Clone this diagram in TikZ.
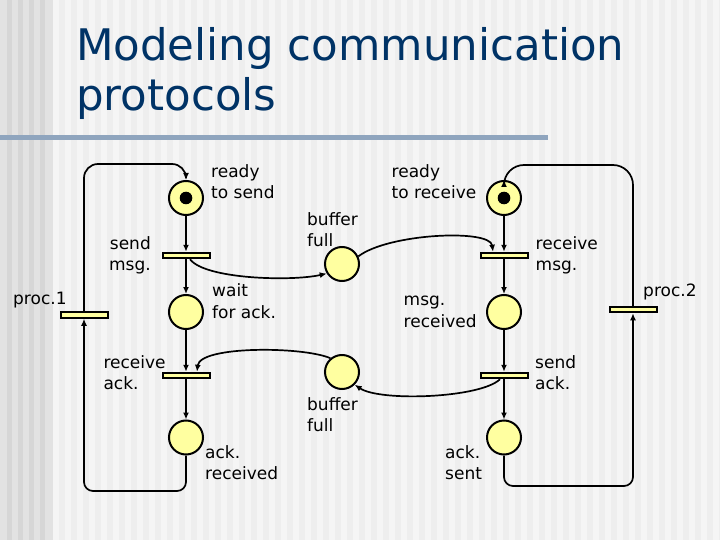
\documentclass[tikz,border=0pt]{standalone}
\usepackage{fontspec}
\setmainfont{DejaVu Sans}
\usetikzlibrary{arrows.meta,positioning}
\definecolor{titleblue}{RGB}{0,51,102}
\definecolor{netyellow}{RGB}{255,255,160}
\definecolor{bgbase}{RGB}{238,238,238}
\definecolor{bglight}{RGB}{245,245,245}
\definecolor{edgegray}{RGB}{226,226,226}
\definecolor{edgedark}{RGB}{214,214,214}
\definecolor{barblue}{RGB}{143,165,190}
\newcommand{\lblfont}{\fontsize{17}{21.5}\selectfont}
\newcommand{\ttlfont}{\fontsize{43.5}{50}\selectfont}

\begin{document}
\begin{tikzpicture}[x=1pt,y=-1pt,
  placecirc/.style={circle,draw,line width=2pt,fill=netyellow,minimum size=34pt,inner sep=0pt},
  transbar/.style={rectangle,draw,line width=2pt,fill=netyellow,minimum width=47pt,minimum height=5.5pt,inner sep=0pt},
  arcline/.style={line width=1.7pt,-{Latex[length=7pt,width=6pt]}},
  lbl/.style={font=\lblfont,inner sep=0pt,align=left,anchor=north west,execute at begin node=\rule{0pt}{13pt}}
]
  \useasboundingbox (0,0) rectangle (720,540);
  % slide background
  \fill[bgbase] (0,0) rectangle (720,540);
  \foreach \sx in {53,65,...,720}
    \fill[bglight] (\sx,0) rectangle ++(6,540);
  \fill[edgegray] (0,0) rectangle (53,540);
  \foreach \sx in {7,18,...,50}
    \fill[edgedark] (\sx,0) rectangle ++(5,540);
  \fill[barblue] (0,135) rectangle (548,140);
  \node[font=\ttlfont,text=titleblue,align=left,anchor=north west,inner sep=0pt,
    execute at begin node=\rule{0pt}{34pt}] (title) at (76,27.7) {Modeling communication\\protocols};

  % process 1
  \node[placecirc] (rts) at (186,198) {};
  \fill (rts.center) circle[radius=6.3pt];
  \node[transbar] (sm) at (186,255.5) {};
  \node[placecirc] (wfa) at (186,312) {};
  \node[transbar] (ra) at (186,375.5) {};
  \node[placecirc] (ackr) at (186,437.5) {};
  \node[transbar] (p1) at (84,315) {};
  % process 2
  \node[placecirc] (rtr) at (504,198) {};
  \fill (rtr.center) circle[radius=6.3pt];
  \node[transbar] (rm) at (504,255.5) {};
  \node[placecirc] (mr) at (504,312) {};
  \node[transbar] (sa) at (504,375.5) {};
  \node[placecirc] (acks) at (504,437.5) {};
  \node[transbar] (p2) at (633,309.5) {};
  % buffers
  \node[placecirc] (bf1) at (342,264) {};
  \node[placecirc] (bf2) at (342,372) {};

  \coordinate (topleft) at (0,164);
  \coordinate (lowleft) at (0,491);
  \coordinate (topright) at (0,165);
  \coordinate (lowright) at (0,486);

  % arcs
  \draw[arcline] (rts) -- (sm);
  \draw[arcline] (sm) -- (wfa);
  \draw[arcline] (wfa) -- (ra);
  \draw[arcline] (ra) -- (ackr);
  \draw[arcline] (rtr) -- (rm);
  \draw[arcline] (rm) -- (mr);
  \draw[arcline] (mr) -- (sa);
  \draw[arcline] (sa) -- (acks);
  \draw[arcline,rounded corners=9pt] (ackr.south) -- (ackr.south |- lowleft) -- (p1.south |- lowleft) -- (p1.south);
  \draw[arcline,rounded corners=14pt] (p1.north) -- (p1.north |- topleft) -- (rts.north |- topleft) -- (rts.north);
  \draw[arcline,rounded corners=9pt] (acks.south) -- (acks.south |- lowright) -- (p2.south |- lowright) -- (p2.south);
  \draw[arcline,rounded corners=20pt] (p2.north) -- (p2.north |- topright) -- (rtr.north |- topright) -- (rtr.north);
  \draw[arcline] ([xshift=4pt]sm.south) .. controls +(15,20) and +(-35,8) .. (bf1.212);
  \draw[arcline] (bf1.25) .. controls +(30,-23) and +(-3,-23) .. ([xshift=-11pt]rm.north);
  \draw[arcline] ([xshift=-4pt]sa.south) .. controls +(-20,19) and +(25,17) .. (bf2.315);
  \draw[arcline] (bf2.130) .. controls +(-28,-12) and +(3,-26) .. ([xshift=11pt]ra.north);

  % labels
  \node[lbl] (l-rts) at (211,164) {ready\\to send};
  \node[lbl,align=right,anchor=north east] (l-sm) at (151,236) {send\\msg.};
  \node[lbl] (l-p1) at (13,291) {proc.1};
  \node[lbl] (l-wfa) at (212,283.7) {wait\\for ack.};
  \node[lbl] (l-bf1) at (307,212) {buffer\\full};
  \node[lbl] (l-rtr) at (391.5,164) {ready\\to receive};
  \node[lbl] (l-rm) at (535.5,236) {receive\\msg.};
  \node[lbl] (l-mr) at (403.5,296) {msg.\\received};
  \node[lbl] (l-p2) at (643,283.7) {proc.2};
  \node[lbl] (l-ra) at (103.3,355) {receive\\ack.};
  \node[lbl] (l-bf2) at (307,397) {buffer\\full};
  \node[lbl] (l-ackr) at (205,445) {ack.\\received};
  \node[lbl] (l-sa) at (535,355) {send\\ack.};
  \node[lbl] (l-acks) at (445,445) {ack.\\sent};
\end{tikzpicture}
\end{document}
